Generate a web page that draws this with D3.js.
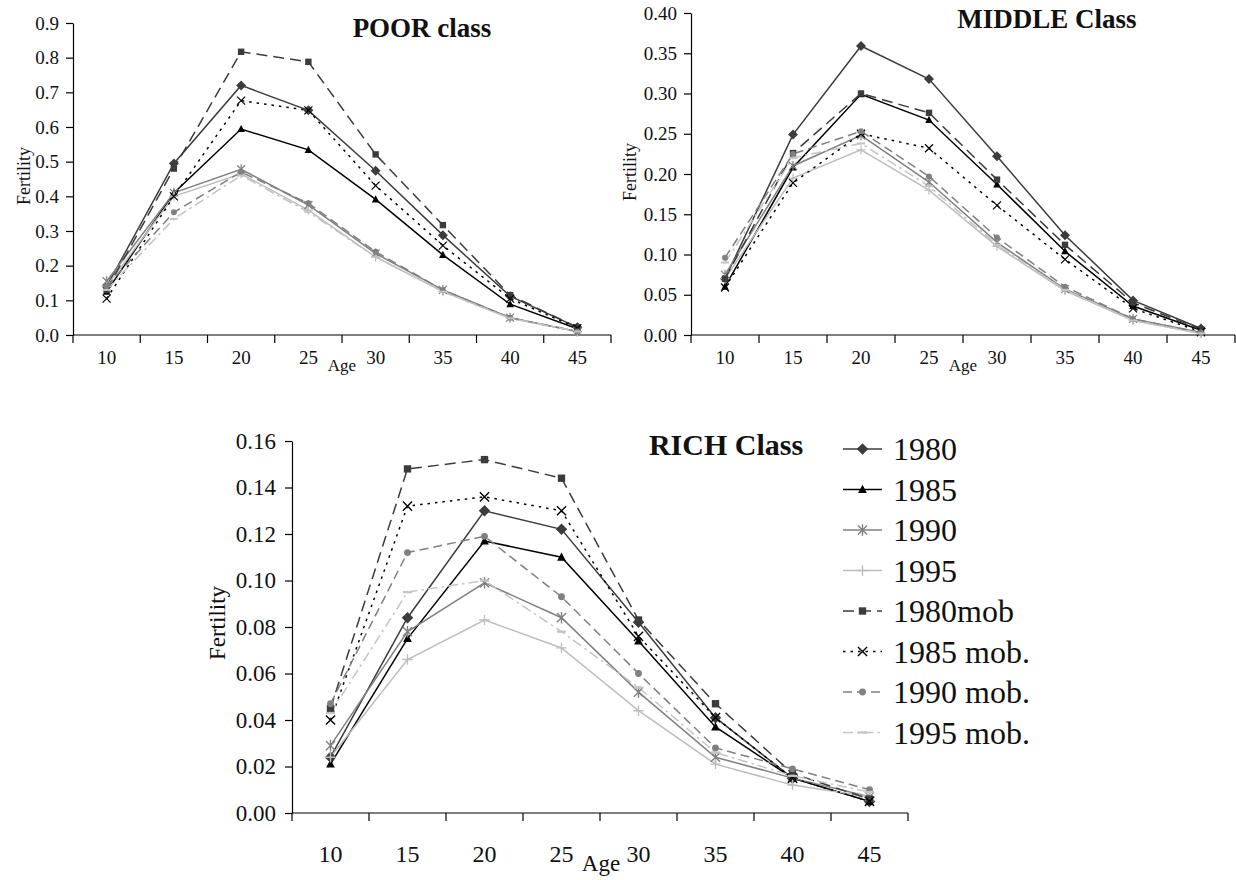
<!DOCTYPE html>
<html>
<head>
<meta charset="utf-8">
<script src="https://cdn.jsdelivr.net/npm/d3@7"></script>
<style>
  html, body { margin: 0; padding: 0; background: #fff; }
  svg { display: block; }
  svg text { font-family: "Liberation Serif", "Times New Roman", serif; fill: #111; }
</style>
</head>
<body>
<svg id="chart" width="1236" height="880"></svg>
<script>
// ---------------- DATA ----------------
const ages = [10, 15, 20, 25, 30, 35, 40, 45];
const seriesNames = ["1980", "1985", "1990", "1995", "1980mob", "1985 mob.", "1990 mob.", "1995 mob."];

// POOR class
const poor_1980    = [0.140, 0.495, 0.720, 0.648, 0.474, 0.288, 0.112, 0.022];
const poor_1985    = [0.125, 0.410, 0.594, 0.534, 0.391, 0.231, 0.089, 0.018];
const poor_1990    = [0.155, 0.410, 0.478, 0.375, 0.235, 0.130, 0.050, 0.010];
const poor_1995    = [0.140, 0.400, 0.465, 0.360, 0.225, 0.125, 0.048, 0.010];
const poor_1980mob = [0.130, 0.480, 0.817, 0.788, 0.521, 0.317, 0.115, 0.022];
const poor_1985mob = [0.105, 0.400, 0.676, 0.648, 0.431, 0.258, 0.105, 0.020];
const poor_1990mob = [0.140, 0.354, 0.470, 0.380, 0.240, 0.130, 0.050, 0.010];
const poor_1995mob = [0.130, 0.335, 0.460, 0.355, 0.225, 0.125, 0.048, 0.010];

// MIDDLE class
const mid_1980    = [0.070, 0.249, 0.359, 0.318, 0.222, 0.124, 0.043, 0.008];
const mid_1985    = [0.060, 0.208, 0.299, 0.267, 0.187, 0.104, 0.036, 0.006];
const mid_1990    = [0.075, 0.210, 0.248, 0.190, 0.115, 0.057, 0.020, 0.003];
const mid_1995    = [0.070, 0.195, 0.230, 0.180, 0.110, 0.055, 0.018, 0.002];
const mid_1980mob = [0.070, 0.226, 0.300, 0.276, 0.193, 0.112, 0.040, 0.007];
const mid_1985mob = [0.059, 0.189, 0.250, 0.232, 0.161, 0.094, 0.033, 0.004];
const mid_1990mob = [0.096, 0.225, 0.253, 0.197, 0.121, 0.060, 0.020, 0.003];
const mid_1995mob = [0.090, 0.220, 0.238, 0.185, 0.112, 0.056, 0.018, 0.002];

// RICH class
const rich_1980    = [0.024, 0.084, 0.130, 0.122, 0.082, 0.041, 0.015, 0.005];
const rich_1985    = [0.021, 0.075, 0.117, 0.110, 0.074, 0.037, 0.015, 0.005];
const rich_1990    = [0.029, 0.078, 0.099, 0.084, 0.052, 0.024, 0.015, 0.007];
const rich_1995    = [0.024, 0.066, 0.083, 0.071, 0.044, 0.021, 0.012, 0.007];
const rich_1980mob = [0.045, 0.148, 0.152, 0.144, 0.083, 0.047, 0.017, 0.006];
const rich_1985mob = [0.040, 0.132, 0.136, 0.130, 0.076, 0.041, 0.015, 0.005];
const rich_1990mob = [0.047, 0.112, 0.119, 0.093, 0.060, 0.028, 0.019, 0.010];
const rich_1995mob = [0.043, 0.095, 0.100, 0.078, 0.054, 0.026, 0.016, 0.009];

// Tick labels
const poorTicks = ["0.0","0.1","0.2","0.3","0.4","0.5","0.6","0.7","0.8","0.9"];
const midTicks  = ["0.00","0.05","0.10","0.15","0.20","0.25","0.30","0.35","0.40"];
const richTicks = ["0.00","0.02","0.04","0.06","0.08","0.10","0.12","0.14","0.16"];

// ---------------- STYLES ----------------
const SERIF = '"Liberation Serif", "Times New Roman", serif';
const styles = [
  { color: "#3c3c3c", dash: null,         marker: "diamond" },
  { color: "#000000", dash: null,         marker: "triangle" },
  { color: "#808080", dash: null,         marker: "asterisk" },
  { color: "#bdbdbd", dash: null,         marker: "plus" },
  { color: "#3c3c3c", dash: "11,6",       marker: "square" },
  { color: "#000000", dash: "2.5,5",      marker: "x" },
  { color: "#808080", dash: "9,5",        marker: "circle" },
  { color: "#c4c4c4", dash: "10,4,2.5,4", marker: "dash" }
];

const svg = d3.select("#chart");
svg.append("rect").attr("width", 1236).attr("height", 880).attr("fill", "#fff");

function drawMarker(g, type, x, y, color, k) {
  k = k || 1;
  const m = g.append("path").attr("transform", `translate(${x},${y}) scale(${k})`);
  switch (type) {
    case "diamond":
      m.attr("d", "M0,-5L5,0L0,5L-5,0Z").attr("fill", color); break;
    case "triangle":
      m.attr("d", "M0,-4.2L3.8,3L-3.8,3Z").attr("fill", color); break;
    case "square":
      m.attr("d", "M-3.2,-3.2H3.2V3.2H-3.2Z").attr("fill", color); break;
    case "circle":
      m.attr("d", d3.symbol(d3.symbolCircle, 28)()).attr("fill", color); break;
    case "asterisk":
      m.attr("d", "M-4,-4L4,4M-4,4L4,-4M0,-5L0,5").attr("stroke", color).attr("stroke-width", 1.2).attr("fill", "none"); break;
    case "plus":
      m.attr("d", "M-4.5,0L4.5,0M0,-4.5L0,4.5").attr("stroke", color).attr("stroke-width", 1.2).attr("fill", "none"); break;
    case "x":
      m.attr("d", "M-4,-4L4,4M-4,4L4,-4").attr("stroke", color).attr("stroke-width", 1.2).attr("fill", "none"); break;
    case "dash":
      m.attr("d", "M-4,0L4,0").attr("stroke", color).attr("stroke-width", 2).attr("fill", "none"); break;
  }
}

function panel(cfg) {
  const g = svg.append("g");
  const x = d3.scaleBand().domain(ages).range([cfg.x0, cfg.x1]).paddingInner(0).paddingOuter(0);
  const y = d3.scaleLinear().domain([0, cfg.ymax]).range([cfg.y0, cfg.y1]);
  const tickVals = cfg.ticks.map(t => +t);

  // Y axis
  const yAxis = d3.axisLeft(y).tickValues(tickVals).tickFormat((d, i) => cfg.ticks[i])
    .tickSize(7).tickSizeOuter(0).tickPadding(cfg.tickPad);
  const ya = g.append("g").attr("transform", `translate(${cfg.x0},0)`).call(yAxis);
  ya.attr("font-family", null).attr("font-size", null);
  ya.select(".domain").attr("stroke", "#000").attr("stroke-width", 1.2);
  ya.selectAll(".tick line").attr("stroke", "#000").attr("stroke-width", 1.2);
  ya.selectAll(".tick text").style("font-size", cfg.tickFont + "px").style("font-family", SERIF).attr("fill", "#111");

  // X axis (line + ticks at band boundaries)
  const xa = g.append("g");
  xa.append("line").attr("x1", cfg.x0).attr("x2", cfg.x1).attr("y1", cfg.y0).attr("y2", cfg.y0)
    .attr("stroke", "#000").attr("stroke-width", 1.2);
  const bounds = ages.map(a => x(a)).concat([cfg.x1]);
  xa.selectAll("line.tk").data(bounds).enter().append("line").attr("class", "tk")
    .attr("x1", d => d).attr("x2", d => d).attr("y1", cfg.y0).attr("y2", cfg.y0 + 8)
    .attr("stroke", "#000").attr("stroke-width", 1.2);
  xa.selectAll("text.lbl").data(ages).enter().append("text").attr("class", "lbl")
    .attr("x", d => x(d) + x.bandwidth() / 2).attr("y", cfg.xLabelY)
    .attr("text-anchor", "middle").style("font-size", cfg.xFont + "px").text(d => d);

  // Axis titles
  g.append("text").attr("x", cfg.ageX).attr("y", cfg.ageY).attr("text-anchor", "middle")
    .style("font-size", cfg.ageFont + "px").text("Age");
  g.append("text").attr("transform", `translate(${cfg.fertX},${cfg.fertY}) rotate(-90)`)
    .attr("text-anchor", "middle").style("font-size", cfg.fertFont + "px").text("Fertility");

  // Title
  g.append("text").attr("x", cfg.titleX).attr("y", cfg.titleY).attr("text-anchor", "middle")
    .style("font-size", cfg.titleFont + "px").style("font-weight", "bold").text(cfg.title);

  // Series
  const line = d3.line().x((d, i) => x(ages[i]) + x.bandwidth() / 2).y(d => y(d));
  cfg.series.forEach((vals, si) => {
    const st = styles[si];
    g.append("path").datum(vals).attr("d", line).attr("fill", "none")
      .attr("stroke", st.color).attr("stroke-width", 1.5)
      .attr("stroke-dasharray", st.dash);
  });
  cfg.series.forEach((vals, si) => {
    const st = styles[si];
    vals.forEach((v, i) => drawMarker(g, st.marker, x(ages[i]) + x.bandwidth() / 2, y(v), st.color, cfg.mk));
  });
}

panel({
  x0: 73, x1: 611, y0: 335, y1: 23, ymax: 0.9, ticks: poorTicks,
  tickFont: 19, tickPad: 7, xFont: 19, xLabelY: 364,
  ageX: 342, ageY: 371, ageFont: 17,
  fertX: 30, fertY: 176, fertFont: 18,
  title: "POOR class", titleX: 422, titleY: 37, titleFont: 27, mk: 1,
  series: [poor_1980, poor_1985, poor_1990, poor_1995, poor_1980mob, poor_1985mob, poor_1990mob, poor_1995mob]
});

panel({
  x0: 691, x1: 1235, y0: 335, y1: 13, ymax: 0.40, ticks: midTicks,
  tickFont: 19, tickPad: 7, xFont: 19, xLabelY: 364,
  ageX: 963, ageY: 371, ageFont: 17,
  fertX: 636, fertY: 172, fertFont: 18,
  title: "MIDDLE Class", titleX: 1047, titleY: 28, titleFont: 27, mk: 1,
  series: [mid_1980, mid_1985, mid_1990, mid_1995, mid_1980mob, mid_1985mob, mid_1990mob, mid_1995mob]
});

panel({
  x0: 292, x1: 908, y0: 813, y1: 441, ymax: 0.16, ticks: richTicks,
  tickFont: 23, tickPad: 9, xFont: 24, xLabelY: 862,
  ageX: 601, ageY: 871, ageFont: 23,
  fertX: 225, fertY: 623, fertFont: 23,
  title: "RICH Class", titleX: 726, titleY: 455, titleFont: 30, mk: 1.15,
  series: [rich_1980, rich_1985, rich_1990, rich_1995, rich_1980mob, rich_1985mob, rich_1990mob, rich_1995mob]
});

// Legend
const leg = svg.append("g");
seriesNames.forEach((name, i) => {
  const st = styles[i];
  const cy = 449 + i * 40.5;
  leg.append("line").attr("x1", 843).attr("x2", 882).attr("y1", cy).attr("y2", cy)
    .attr("stroke", st.color).attr("stroke-width", 1.5).attr("stroke-dasharray", st.dash);
  drawMarker(leg, st.marker, 862.5, cy, st.color, 1.15);
  leg.append("text").attr("x", 893).attr("y", cy + 11).style("font-size", "32px").text(name);
});
</script>
</body>
</html>
